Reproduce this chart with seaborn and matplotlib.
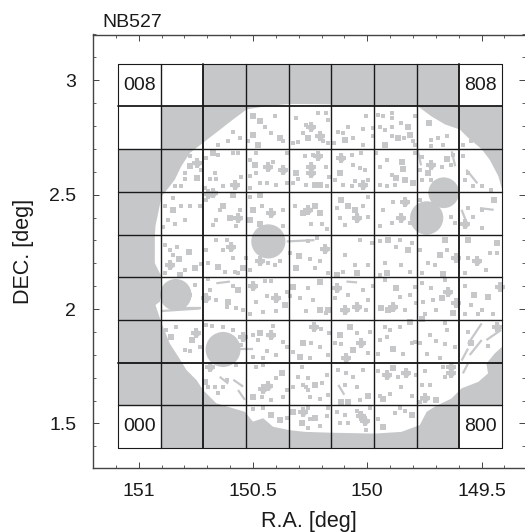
import numpy as np
import matplotlib.pyplot as plt
from matplotlib.patches import Circle, Polygon, Rectangle
from matplotlib.ticker import MultipleLocator
import seaborn as sns

# tract layout, patch 000 is lower left on the sky plot
ra_left = 151.09
dec_low = 1.392
patch_deg = 0.18667

x_ticks = [151, 150.5, 150, 149.5]
x_labels = ['151', '150.5', '150', '149.5']
y_ticks = [3, 2.5, 2, 1.5]
y_labels = ['3', '2.5', '2', '1.5']

empty_patches = [(0, 0), (8, 0), (0, 8), (8, 8), (1, 8), (0, 7)]
named_patches = ['000', '800', '008', '808']

# edge of the usable field, in patch coordinates
edge_x = [.875, 1.02, 1.21, 1.33, 1.48, 1.68, 1.99, 2.34, 2.70, 3.01, 3.48, 4.02, 4.98, 5.04, 7.03, 7.34,
          7.66, 8.01, 8.20, 8.52, 8.71, 8.91, 9.0, 9.0, 8.83, 8.63, 8.67, 8.44, 8.05, 7.81, 7.42, 7.23,
          7.07, 6.64, 6.02, 5.0, 4.38, 4.02, 3.63, 3.40, 3.16, 2.97, 2.70, 2.30, 1.99, 1.84, 1.60, 1.41,
          1.21, 1.02, .875, .98, 1.0, .86, .86]
edge_y = [5.20, 5.90, 6.13, 6.29, 6.60, 6.91, 7.15, 7.42, 7.70, 7.93, 8.01, 8.06, 8.05, 8.0, 8.0, 7.77,
          7.58, 7.46, 7.27, 7.0, 6.75, 6.37, 6.05, 2.375, 2.22, 1.98, 1.75, 1.55, 1.40, 1.16, .97, .85,
          .54, .38, .34, .36, .38, .42, .50, .70, .62, .85, .93, 1.05, 1.36, 1.59, 1.83, 2.14,
          2.45, 2.92, 3.35, 3.43, 4.05, 4.33, 4.95]

# bright star halos: centre x, centre y, radius in patch units
halo_x = [3.52, 1.35, 2.46, 7.63, 7.23]
halo_y = [4.84, 3.59, 2.31, 5.98, 5.39]
halo_r = [.40, .37, .41, .36, .39]

# smallest masked spots, one line per row of patches
small_holes = [
    (2.70, 7.41), (2.58, 7.18), (2.85, 7.26), (2.34, 7.10), (3.44, 7.53), (3.67, 7.77), (3.87, 7.18), (3.59, 7.39),
    (3.05, 7.18), (4.10, 7.14), (4.22, 7.16), (4.18, 7.73), (4.41, 7.57), (4.34, 7.37), (4.88, 7.84), (4.92, 7.69),
    (4.69, 7.84), (4.92, 7.14), (4.80, 7.18), (5.82, 7.77), (5.39, 7.53), (5.16, 7.41), (5.27, 7.38), (5.51, 7.26),
    (5.74, 7.47), (5.98, 7.49), (5.98, 7.30), (5.74, 7.10), (5.06, 7.14), (6.09, 7.80), (6.21, 7.77), (6.41, 7.84),
    (6.42, 7.72), (6.13, 7.53), (6.25, 7.45), (6.42, 7.52), (6.64, 7.61), (6.41, 7.30), (6.71, 7.26), (6.91, 7.18),
    (6.95, 7.10), (6.95, 7.77), (7.34, 7.22), (7.50, 7.26), (7.70, 7.30), (7.34, 7.08), (7.62, 7.10), (8.27, 7.20),
    (8.09, 7.10),
    (1.68, 6.83), (1.56, 6.45), (1.56, 6.30), (1.33, 6.13), (1.48, 6.13), (1.95, 6.52), (2.07, 6.79), (2.34, 6.87),
    (2.70, 6.91), (2.81, 6.91), (2.27, 6.45), (2.30, 6.29), (2.46, 6.13), (2.15, 6.29), (2.03, 6.09), (2.89, 6.34),
    (3.09, 6.75), (3.24, 6.91), (3.63, 6.71), (3.09, 6.37), (3.24, 6.45), (3.48, 6.20), (3.32, 6.20), (3.71, 6.16),
    (3.95, 6.91), (3.95, 6.20), (3.09, 6.09), (4.22, 6.29), (4.10, 6.20), (4.86, 6.59), (4.94, 6.35), (4.41, 6.16),
    (4.89, 6.13), (4.57, 6.87), (4.38, 6.83), (5.47, 6.87), (5.70, 6.91), (5.51, 6.64), (5.66, 6.56), (5.78, 6.52),
    (5.86, 6.28), (5.08, 6.28), (5.27, 6.16), (5.47, 6.13), (5.55, 6.25), (6.29, 6.75), (6.13, 6.59), (6.41, 6.40),
    (6.48, 6.16), (6.13, 6.16), (6.29, 6.13), (6.95, 6.91), (6.05, 6.91), (7.11, 6.81), (7.85, 6.87), (7.07, 6.52),
    (7.58, 6.59), (7.81, 6.63), (7.11, 6.28), (7.34, 6.28), (8.20, 6.45), (8.09, 6.83), (8.12, 6.28), (8.52, 6.13),
    (8.75, 6.05), (8.32, 6.13),
    (1.29, 5.85), (1.09, 5.66), (1.48, 5.66), (1.68, 5.66), (1.91, 5.66), (1.57, 5.34), (1.17, 5.34), (1.33, 5.25),
    (1.05, 5.17), (2.07, 5.80), (2.38, 5.58), (2.85, 5.58), (2.30, 5.34), (2.23, 5.22), (2.77, 5.19), (3.09, 5.89),
    (3.36, 5.66), (3.71, 5.11), (3.87, 5.20), (3.87, 5.58), (4.14, 5.66), (4.77, 5.25), (4.53, 5.25), (4.89, 5.12),
    (5.74, 5.66), (5.86, 5.89), (5.20, 5.38), (5.31, 5.22), (5.86, 5.42), (5.12, 5.62), (6.45, 5.77), (6.21, 5.58),
    (6.13, 5.19), (6.41, 5.27), (6.84, 5.27), (7.07, 5.80), (7.81, 5.42), (7.89, 5.27), (8.20, 5.62), (8.52, 5.58),
    (8.32, 5.42), (8.52, 5.16),
    (1.21, 4.64), (1.09, 4.76), (1.38, 4.72), (1.57, 4.17), (1.95, 4.31), (1.09, 4.09), (1.29, 4.52), (2.30, 4.88),
    (2.54, 4.88), (2.46, 4.64), (2.70, 4.45), (2.50, 4.13), (2.07, 4.64), (2.11, 4.33), (2.81, 4.09), (2.73, 4.13),
    (3.09, 4.17), (3.52, 4.33), (3.00, 4.45), (3.79, 4.37), (3.68, 4.29), (4.02, 4.56), (4.45, 4.84), (4.65, 4.91),
    (4.49, 4.42), (4.73, 4.37), (4.61, 4.21), (4.92, 4.09), (5.31, 4.52), (5.55, 4.29), (5.94, 4.80), (5.27, 4.13),
    (5.86, 4.29), (5.66, 4.88), (6.13, 4.84), (6.60, 4.88), (6.25, 4.33), (6.64, 4.29), (6.88, 4.80), (6.52, 4.72),
    (6.13, 4.05), (6.84, 4.13), (7.27, 4.33), (7.07, 4.64), (7.42, 4.29), (7.11, 4.09), (7.70, 4.64), (8.20, 4.45),
    (8.71, 4.56), (8.89, 4.56), (8.63, 4.17), (8.12, 4.09),
    (1.80, 3.82), (1.68, 3.59), (2.15, 3.71), (2.30, 3.47), (2.54, 3.31), (2.77, 3.27), (2.93, 3.23), (2.11, 3.95),
    (2.70, 3.80), (3.48, 3.56), (3.24, 3.42), (3.09, 3.15), (3.44, 3.92), (3.40, 3.19), (3.71, 3.20), (3.95, 3.66),
    (3.59, 3.92), (4.26, 3.51), (4.02, 3.56), (4.45, 3.75), (4.57, 3.47), (4.41, 3.20), (4.86, 3.16), (5.39, 3.59),
    (5.74, 3.70), (5.86, 3.47), (5.98, 3.80), (5.08, 3.51), (5.82, 3.23), (6.95, 3.78), (6.84, 3.59), (6.72, 3.23),
    (6.98, 3.39), (6.25, 3.93), (6.60, 3.55), (7.38, 3.47), (7.11, 3.86), (7.34, 3.75), (7.15, 3.43), (7.19, 3.15),
    (7.65, 3.93), (7.46, 3.23), (8.12, 3.80), (8.44, 3.15), (8.79, 3.15), (8.52, 3.23), (8.12, 3.15), (8.28, 3.35),
    (1.56, 2.30), (1.68, 2.27), (1.36, 2.84), (1.91, 2.37), (1.13, 2.77), (2.07, 2.88), (2.46, 2.84), (2.70, 2.77),
    (2.19, 2.86), (2.89, 2.42), (2.62, 2.10), (3.16, 2.65), (3.63, 2.86), (3.48, 2.27), (3.28, 2.54), (3.71, 2.19),
    (3.16, 2.14), (3.87, 2.48), (3.95, 2.37), (3.40, 2.10), (4.10, 2.24), (4.73, 2.37), (4.53, 2.47), (4.92, 2.19),
    (4.76, 2.80), (4.95, 2.69), (4.49, 2.10), (5.08, 2.47), (5.23, 2.44), (5.86, 2.22), (5.90, 2.73), (5.59, 2.69),
    (6.60, 2.84), (6.88, 2.45), (6.29, 2.61), (6.13, 2.53), (6.09, 2.20), (6.68, 2.20), (6.25, 2.84), (6.95, 2.48),
    (6.37, 2.77), (7.30, 2.65), (7.66, 2.93), (7.70, 2.77), (7.46, 2.51), (7.07, 2.45), (7.66, 2.44), (7.23, 2.20),
    (7.54, 2.11), (7.89, 2.37), (8.20, 2.73), (8.67, 2.40),
    (2.27, 1.44), (2.03, 1.55), (2.34, 1.28), (2.77, 1.94), (2.54, 1.59), (2.11, 1.44), (2.46, 1.44), (3.24, 1.91),
    (3.40, 1.95), (3.70, 1.63), (3.87, 1.20), (3.59, 1.13), (3.95, 1.35), (3.36, 1.20), (4.30, 1.91), (4.10, 1.44),
    (4.22, 1.67), (4.34, 1.48), (4.45, 1.36), (4.45, 1.63), (4.77, 1.52), (4.89, 1.72), (4.49, 1.20), (4.73, 1.16),
    (4.41, 1.44), (4.92, 1.25), (5.31, 1.48), (5.51, 1.67), (5.35, 1.75), (5.59, 1.44), (5.86, 1.23), (5.74, 1.83),
    (5.16, 1.83), (5.66, 1.13), (6.09, 1.80), (6.64, 1.44), (6.13, 1.23), (6.37, 1.27), (6.88, 1.23), (6.56, 1.67),
    (6.98, 1.71), (7.19, 1.80), (7.65, 1.67), (7.11, 1.48), (7.30, 1.48), (7.07, 1.09), (7.62, 1.91),
    (3.16, .91), (3.79, .66), (3.95, .70), (3.40, .95), (4.10, .85), (4.45, .47), (4.89, .74), (4.92, .95),
    (4.45, .95), (4.49, .67), (4.73, .52), (5.39, .59), (5.31, .77), (5.12, .84), (5.20, .59), (5.59, .86),
    (5.90, .95), (5.66, .78), (5.82, .42), (6.60, .95), (6.48, .83), (6.72, .87), (6.09, .67),
]

mid_holes = [
    (3.16, 7.78), (3.32, 7.65), (3.16, 7.34), (3.28, 7.10), (3.79, 7.26), (4.45, 7.27), (5.31, 7.22), (6.80, 7.53),
    (6.84, 7.34), (6.56, 7.26), (6.25, 7.10), (7.29, 7.61),
    (1.68, 6.60), (1.84, 6.33), (2.23, 6.91), (3.20, 6.63), (4.18, 6.45), (4.73, 6.16), (4.61, 6.16), (5.20, 6.45),
    (6.66, 6.71), (6.68, 6.53), (6.52, 6.32), (6.72, 6.28), (6.91, 6.20), (7.27, 6.44), (7.70, 6.78),
    (1.29, 5.58), (2.46, 5.66), (2.70, 5.93), (2.62, 5.38), (3.32, 5.93), (3.16, 5.58), (3.09, 5.34), (3.32, 5.25),
    (4.34, 5.50), (4.61, 5.66), (4.73, 5.50), (5.23, 5.81), (5.39, 5.66), (5.55, 5.58), (8.82, 5.81),
    (1.43, 4.42), (1.66, 4.60), (1.80, 4.21), (1.45, 4.05), (2.34, 4.25), (2.93, 4.21), (4.23, 4.50), (4.16, 4.21),
    (5.59, 4.09), (5.12, 4.05), (6.33, 4.88), (6.79, 4.64), (6.29, 4.11), (7.67, 4.88), (7.54, 4.52), (7.62, 4.08),
    (8.20, 4.88), (8.87, 4.80),
    (2.81, 3.71), (2.58, 3.43), (3.91, 3.35), (4.10, 3.78), (4.73, 3.90), (4.73, 3.23), (4.92, 3.23), (6.52, 3.75),
    (6.17, 3.27), (6.32, 3.23), (7.58, 3.51), (7.85, 3.16), (8.34, 3.59), (8.67, 3.55),
    (1.25, 2.61), (1.72, 2.53), (3.32, 2.69), (4.34, 2.46), (4.26, 2.14), (5.51, 2.29), (5.20, 2.65), (5.43, 2.84),
    (6.84, 2.96), (6.45, 2.33), (7.11, 3.03), (8.26, 2.46),
    (2.03, 1.55), (3.83, 1.75), (3.16, 1.20), (4.61, 1.48), (5.39, 1.09), (5.23, 1.09), (5.86, 1.23), (6.45, 1.88),
    (6.21, 1.14), (7.46, 1.12),
    (3.59, .77), (3.79, .66), (4.10, .85), (4.30, .58), (4.61, .70), (6.88, .78), (6.21, .50),
]

big_holes = [
    (4.53, 7.53), (4.73, 7.30),
    (1.84, 6.67), (2.73, 6.16), (3.52, 6.59), (3.87, 6.52), (4.69, 6.83), (4.53, 6.59), (4.53, 6.44), (5.22, 6.80),
    (5.74, 6.16), (7.34, 6.63),
    (2.23, 5.97), (2.10, 5.95), (2.81, 5.38), (3.59, 5.51), (4.45, 5.58), (5.59, 5.39), (6.72, 5.77), (6.64, 5.38),
    (8.12, 5.25),
    (1.21, 4.29), (2.65, 4.72), (3.32, 4.37), (4.84, 4.66), (8.40, 4.38), (7.93, 4.45),
    (2.07, 3.51), (3.16, 3.79), (3.70, 3.52), (5.31, 3.23), (5.59, 3.30), (5.12, 3.74), (6.45, 3.30), (7.73, 3.66),
    (7.93, 3.39), (8.95, 3.78),
    (1.83, 2.69), (2.93, 2.61), (3.59, 2.65), (4.58, 2.84), (5.70, 2.45), (5.35, 2.10), (8.89, 2.84),
    (2.15, 1.91), (3.51, 1.45), (3.40, 1.38), (6.29, 1.71), (6.75, 1.77), (7.19, 1.17), (7.81, 1.75), (7.81, 1.90),
    (4.34, .85), (5.78, .63), (5.70, .74),
]

# long thin masks (x0, y0, x1, y1)
streaks = [
    (1.02, 3.21, 1.91, 3.27), (1.45, 3.29, 1.95, 3.29), (3.95, 4.84, 4.60, 4.87), (2.81, 2.31, 3.16, 2.31),
    (8.05, 5.58, 8.20, 5.20), (8.48, 5.62, 8.80, 5.58), (8.05, 2.05, 8.20, 2.33), (8.24, 2.18, 8.52, 2.53),
    (8.20, 2.44, 8.52, 2.92), (8.08, 1.75, 8.20, 1.98), (8.63, 2.53, 8.98, 2.77), (2.70, 1.60, 2.93, 1.44),
    (2.81, 1.36, 2.97, 1.13), (2.38, 1.67, 2.58, 1.51), (2.30, 3.86, 2.62, 3.90), (7.02, 6.98, 7.10, 6.62),
    (8.16, 6.52, 8.42, 6.20), (5.16, 1.48, 5.30, 1.25), (7.82, 6.95, 7.90, 6.60), (5.35, 3.90, 5.60, 3.88),
]

gray = '#c5c7c9'
ink = '#1a1a1a'


def sky_x(px):
    return ra_left - np.asarray(px) * patch_deg


def sky_y(py):
    return dec_low + np.asarray(py) * patch_deg


sns.set_style('ticks')
plt.rcParams['font.family'] = ['Liberation Sans', 'DejaVu Sans']

fig = plt.figure(figsize=(5.25, 5.32), dpi=100)
ax = fig.add_axes([93 / 525, 64 / 532, 432 / 525, 433.5 / 532])

# everything starts masked, then the field and the empty patches are cut out
ax.add_patch(Rectangle((sky_x(9), sky_y(0)), 9 * patch_deg, 9 * patch_deg, fc=gray, ec='none', zorder=1))
ax.add_patch(Polygon(np.column_stack([sky_x(edge_x), sky_y(edge_y)]), fc='white', ec='none', zorder=2))
for cx, cy in empty_patches:
    ax.add_patch(Rectangle((sky_x(cx + 1), sky_y(cy)), patch_deg, patch_deg, fc='white', ec='none', zorder=2))
for hx, hy, hr in zip(halo_x, halo_y, halo_r):
    ax.add_patch(Circle((sky_x(hx), sky_y(hy)), hr * patch_deg, fc=gray, ec='none', zorder=3))

# big spots are lumpy, a round core with a plus over it comes close
for holes, size, mark in [(small_holes, 7, 's'), (mid_holes, 16, 's'), (big_holes, 26, 'o'), (big_holes, 48, 'P')]:
    pts = np.array(holes)
    sns.scatterplot(x=sky_x(pts[:, 0]), y=sky_y(pts[:, 1]), s=size, marker=mark, color=gray,
                    linewidth=0, legend=False, ax=ax, zorder=3)

for x0, y0, x1, y1 in streaks:
    ax.plot(sky_x([x0, x1]), sky_y([y0, y1]), color=gray, lw=1.6, solid_capstyle='butt', zorder=3)

# patch grid
for i in range(10):
    lw = 0.8 if i in (0, 9) else (1.35 if i in (2, 8) else 1.0)
    ax.plot(sky_x([i, i]), sky_y([0, 9]), color=ink, lw=lw, zorder=4)
    ax.plot(sky_x([0, 9]), sky_y([i, i]), color=ink, lw=lw if i != 8 else 1.3, zorder=4)

for name in named_patches:
    cx, cy = int(name[0]), int(name[2])
    ax.text(sky_x(cx + .5), sky_y(cy + .5), name, fontsize=14, color=ink, ha='center', va='center', zorder=5)

ax.set_xlim(151.2, 149.31)
ax.set_ylim(1.305, 3.2)
ax.set_xticks(x_ticks, labels=x_labels)
ax.set_yticks(y_ticks, labels=y_labels)
ax.xaxis.set_minor_locator(MultipleLocator(0.1))
ax.yaxis.set_minor_locator(MultipleLocator(0.1))
ax.tick_params(which='major', direction='in', length=4.5, width=0.7, color='#444444', labelsize=14,
               labelcolor=ink, top=True, right=True)
ax.tick_params(axis='x', which='major', pad=11)
ax.tick_params(axis='y', which='major', pad=12)
ax.tick_params(which='minor', direction='in', length=2.2, width=0.6, color='#444444', top=True, right=True)
for side in ['left', 'top', 'bottom']:
    ax.spines[side].set_color('#444444')
    ax.spines[side].set_linewidth(1.0)
ax.spines['right'].set_visible(False)

ax.set_xlabel('R.A. [deg]', fontsize=15.5, color=ink, labelpad=8)
ax.set_ylabel('DEC. [deg]', fontsize=15.5, color=ink, labelpad=11)
fig.text(102 / 525, 1 - 27 / 532, 'NB527', fontsize=14, color=ink, ha='left', va='baseline')

fig.savefig('out.png', dpi=100)
